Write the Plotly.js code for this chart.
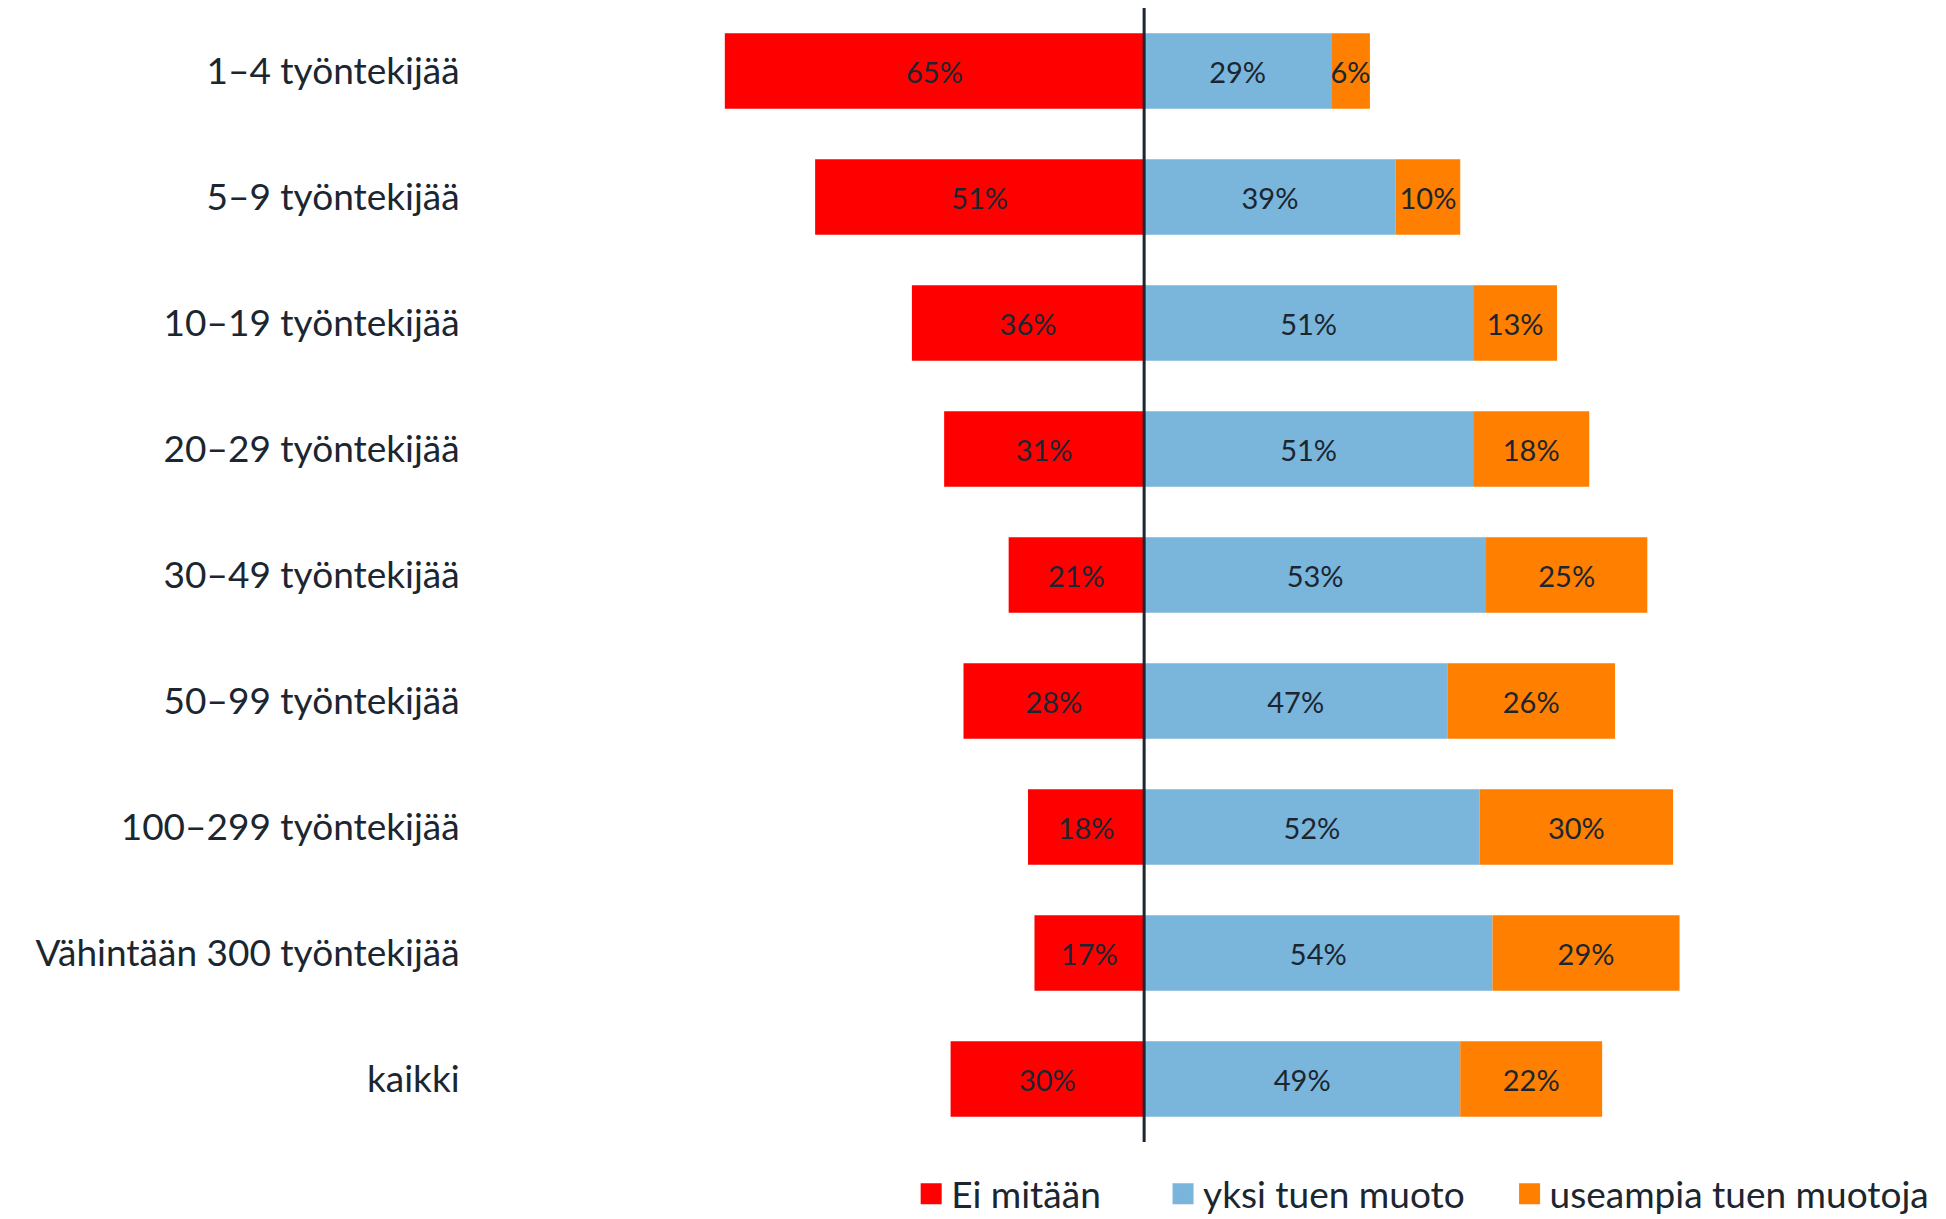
<!DOCTYPE html>
<html>
<head>
<meta charset="utf-8">
<script src="https://cdn.plot.ly/plotly-3.0.1.min.js"></script>
<style>html,body{margin:0;padding:0;background:#fff;}#chart{width:1946px;height:1219px;}</style>
</head>
<body>
<div id="chart"></div>
<script>
const categories = ["1–4 työntekijää","5–9 työntekijää","10–19 työntekijää","20–29 työntekijää","30–49 työntekijää","50–99 työntekijää","100–299 työntekijää","Vähintään 300 työntekijää","kaikki"];
const eiMitaan = [65,51,36,31,21,28,18,17,30];
const yksiTuenMuoto = [29,39,51,51,53,47,52,54,49];
const useampiaTuenMuotoja = [6,10,13,18,25,26,30,29,22];
const seriesNames = ["Ei mitään","yksi tuen muoto","useampia tuen muotoja"];
const colors = ["#ff0000","#7ab5db","#ff7f00"];
const textColor = "#1b2630";
const FONT = "Lato, 'Open Sans', sans-serif";

function barTrace(vals, sign, i){
  return {
    type:"bar", orientation:"h",
    y:categories, x:vals.map(v=>sign*v),
    text:vals.map(v=>v+"%"),
    textposition:"inside", insidetextanchor:"middle", textangle:0,
    textfont:{family:FONT,size:29,color:textColor},
    marker:{color:colors[i], line:{width:0}},
    name:seriesNames[i], showlegend:false, hoverinfo:"skip"
  };
}
const legendIds = ["legend","legend2","legend3"];
function legendTrace(i){
  return {type:"scatter", mode:"markers", x:[null], y:[null],
    marker:{symbol:"square", size:16, color:colors[i], line:{width:5,color:colors[i]}},
    name:seriesNames[i], showlegend:true, legend:legendIds[i], hoverinfo:"skip"};
}
const data = [
  barTrace(eiMitaan,-1,0),
  barTrace(yksiTuenMuoto,1,1),
  barTrace(useampiaTuenMuotoja,1,2),
  legendTrace(0), legendTrace(1), legendTrace(2)
];
function legendAt(x){
  return {orientation:"h", x:x, xanchor:"left", y:-0.046, yanchor:"middle",
    font:{family:FONT,size:37,color:textColor}, itemsizing:"trace",
    bgcolor:"rgba(0,0,0,0)", borderwidth:0};
}
const layout = {
  width:1946, height:1219,
  margin:{l:470,r:20,t:8,b:77,autoexpand:false},
  paper_bgcolor:"#fff", plot_bgcolor:"#fff",
  barmode:"relative", bargap:0.4,
  uniformtext:{mode:"show", minsize:29},
  font:{family:FONT,color:textColor},
  xaxis:{range:[-104.5,121.2], visible:false, fixedrange:true, zeroline:false, showgrid:false},
  yaxis:{type:"category", range:[8.5,-0.5], showgrid:false, zeroline:false, showline:false,
    ticks:"outside", ticklen:2, tickcolor:"rgba(0,0,0,0)",
    tickfont:{family:FONT,size:37,color:textColor}},
  shapes:[{type:"line", xref:"x", yref:"paper", x0:0, x1:0, y0:0, y1:1,
    line:{color:textColor,width:3}}],
  legend:legendAt(0.303),
  legend2:legendAt(0.476),
  legend3:legendAt(0.714),
  showlegend:true
};
Plotly.newPlot("chart", data, layout, {displayModeBar:false, staticPlot:true});
</script>
</body>
</html>
